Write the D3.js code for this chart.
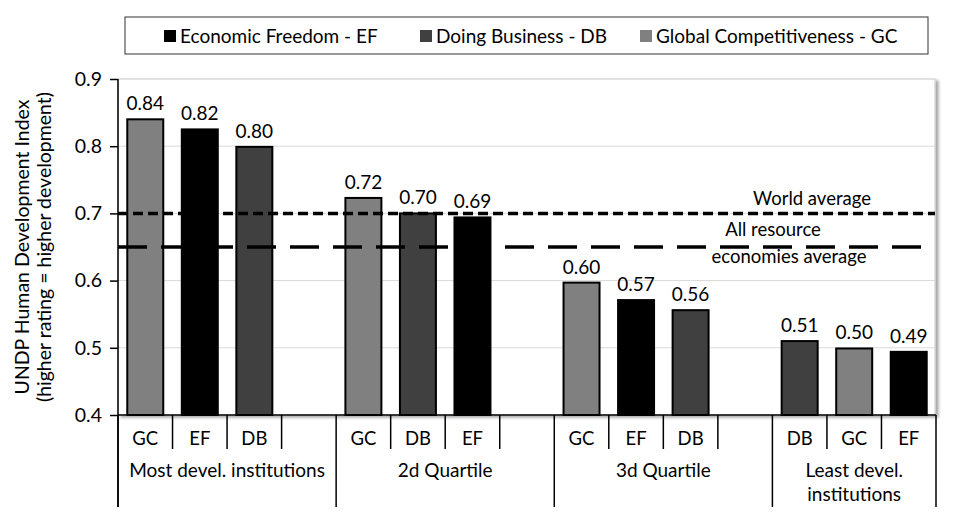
<!DOCTYPE html>
<html><head><meta charset="utf-8">
<script src="https://cdn.jsdelivr.net/npm/d3@7"></script>
<style>body{margin:0;background:#fff}svg{display:block;font-family:Lato,"Open Sans",sans-serif}</style>
</head><body><svg id="c" width="958" height="518"></svg>
<script>
const groups = ["Most devel. institutions","2d Quartile","3d Quartile","Least devel.\ninstitutions"];
const slotsPerGroup = [4,4,4,3];
const barCodes = [["GC","EF","DB"],["GC","DB","EF"],["GC","EF","DB"],["DB","GC","EF"]];
const barValues = [[0.840,0.825,0.799],[0.723,0.700,0.694],[0.597,0.571,0.556],[0.510,0.499,0.494]];
const barLabels = [["0.84","0.82","0.80"],["0.72","0.70","0.69"],["0.60","0.57","0.56"],["0.51","0.50","0.49"]];
const seriesCodes = ["EF","DB","GC"];
const seriesNames = ["Economic Freedom - EF","Doing Business - DB","Global Competitiveness - GC"];
const seriesColors = ["#000000","#404040","#808080"];
const yTicks = [0.4,0.5,0.6,0.7,0.8,0.9];
const refLines = [{name:"World average", value:0.70}, {name:"All resource economies average", value:0.65}];

const svg = d3.select("#c");
const L=118, R=936, T=79, B=415;
const color = d3.scaleOrdinal().domain(seriesCodes).range(seriesColors);

const slots = [];
groups.forEach((g,gi)=>{ for(let k=0;k<slotsPerGroup[gi];k++){ slots.push({gi,k,id:slots.length, code: barCodes[gi][k]||"", value: barValues[gi][k], label: barLabels[gi][k]}); }});
const x = d3.scaleBand().domain(slots.map(d=>d.id)).range([L,R]).padding(0);
const y = d3.scaleLinear().domain([0.4,0.9]).range([B,T]);
const bw = x.bandwidth(), barW = bw*0.66;

const defs = svg.append("defs");
const f = defs.append("filter").attr("id","sh").attr("x","-5%").attr("y","-5%").attr("width","110%").attr("height","110%");
f.append("feDropShadow").attr("dx",3).attr("dy",2).attr("stdDeviation",1.5).attr("flood-color","#000").attr("flood-opacity",0.35);

svg.append("rect").attr("x",L).attr("y",T).attr("width",R-L-1).attr("height",B-T)
  .attr("fill","#fff").attr("stroke","#d0d0d0").attr("stroke-width",1.2).attr("filter","url(#sh)");

svg.append("g").selectAll("line").data(yTicks.filter(v=>v>0.4&&v<0.9)).join("line")
  .attr("x1",L).attr("x2",R-1).attr("y1",d=>y(d)).attr("y2",d=>y(d)).attr("stroke","#d9d9d9").attr("stroke-width",1);

const bars = slots.filter(d=>d.code);
svg.append("g").selectAll("rect").data(bars).join("rect")
  .attr("x",d=>x(d.id)+(bw-barW)/2).attr("width",barW)
  .attr("y",d=>y(d.value)).attr("height",d=>y(0.4)-y(d.value))
  .attr("fill",d=>color(d.code)).attr("stroke","#000").attr("stroke-width",2);
svg.append("g").selectAll("text").data(bars).join("text")
  .attr("x",d=>x(d.id)+bw/2).attr("y",d=>y(d.value)-9).attr("text-anchor","middle")
  .attr("font-size",19).attr("fill","#000").text(d=>d.label);

svg.append("line").attr("x1",L).attr("x2",R-1).attr("y1",y(refLines[0].value)).attr("y2",y(refLines[0].value))
  .attr("stroke","#000").attr("stroke-width",3.5).attr("stroke-dasharray","10,5");
svg.append("line").attr("x1",L).attr("x2",R-1).attr("y1",y(refLines[1].value)).attr("y2",y(refLines[1].value))
  .attr("stroke","#000").attr("stroke-width",3.5).attr("stroke-dasharray","29,14");
svg.append("text").attr("x",812).attr("y",y(refLines[0].value)-8).attr("text-anchor","middle").attr("font-size",18.5).text(refLines[0].name);
svg.append("text").attr("x",773).attr("y",y(refLines[1].value)-11).attr("text-anchor","middle").attr("font-size",18.5).text("All resource");
svg.append("text").attr("x",789).attr("y",y(refLines[1].value)+16).attr("text-anchor","middle").attr("font-size",18.5).text("economies average");

const ya = svg.append("g").attr("transform",`translate(${L},0)`).call(d3.axisLeft(y).tickValues(yTicks).tickFormat(d3.format(".1f")).tickSize(8).tickPadding(8));
ya.select(".domain").remove();
ya.selectAll(".tick line").attr("stroke","#000").attr("stroke-width",1.5);
ya.selectAll(".tick text").attr("font-size",19.5).attr("font-family","Lato,'Open Sans',sans-serif").attr("fill","#000");
svg.append("line").attr("x1",L).attr("x2",L).attr("y1",T).attr("y2",507).attr("stroke","#000").attr("stroke-width",1.5);

svg.append("line").attr("x1",L).attr("x2",R).attr("y1",B).attr("y2",B).attr("stroke","#000").attr("stroke-width",1.5);
const bounds = slots.map(d=>({pos:x(d.id), group: d.k===0})).concat([{pos:R, group:true}]);
svg.append("g").selectAll("line").data(bounds).join("line")
  .attr("x1",d=>d.pos).attr("x2",d=>d.pos).attr("y1",B).attr("y2",d=>d.group?507:449)
  .attr("stroke","#000").attr("stroke-width",1.5);
svg.append("g").selectAll("text").data(bars).join("text")
  .attr("x",d=>x(d.id)+bw/2).attr("y",445).attr("text-anchor","middle").attr("font-size",18.5).text(d=>d.code);
groups.forEach((g,gi)=>{
  const s = slots.filter(d=>d.gi===gi);
  const cx = (x(s[0].id)+x(s[s.length-1].id)+bw)/2;
  g.split("\n").forEach((line,li)=>{
    svg.append("text").attr("x",cx).attr("y",477+li*24).attr("text-anchor","middle").attr("font-size",19).text(line);
  });
});

const yt = svg.append("text").attr("transform","translate(33,247) rotate(-90)").attr("text-anchor","middle").attr("font-size",19.5);
yt.append("tspan").attr("x",0).attr("dy",-4).text("UNDP Human Development Index");
yt.append("tspan").attr("x",0).attr("dy",22).text("(higher rating = higher development)");

svg.append("rect").attr("x",125).attr("y",17).attr("width",803).attr("height",37).attr("fill","#fff").attr("stroke","#333").attr("stroke-width",1);
const legX = [164,420,640];
seriesCodes.forEach((c,i)=>{
  svg.append("rect").attr("x",legX[i]).attr("y",30).attr("width",12).attr("height",12).attr("fill",seriesColors[i]);
  svg.append("text").attr("x",legX[i]+16).attr("y",43).attr("font-size",19).text(seriesNames[i]);
});
</script></body></html>
